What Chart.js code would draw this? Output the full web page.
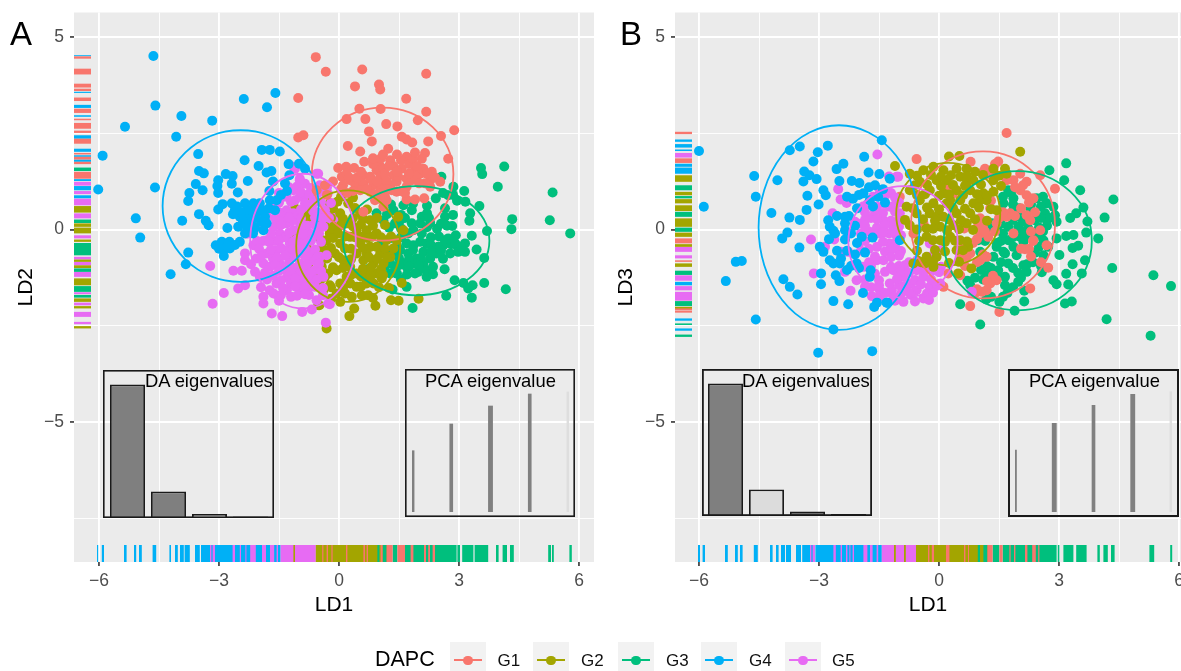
<!DOCTYPE html>
<html><head><meta charset="utf-8">
<script src="https://cdn.jsdelivr.net/npm/chart.js@4"></script>
<style>
html,body{margin:0;padding:0;background:#fff;width:1181px;height:671px;overflow:hidden;font-family:"Liberation Sans",Arial,sans-serif}
canvas{position:absolute;display:block}
.t{position:absolute;white-space:nowrap;line-height:1;color:#000}
.sw{position:absolute;top:642px;width:36px;height:29px;background:#f2f2f2}
.sw i{position:absolute;left:4px;right:4px;top:17px;height:2px}
.sw b{position:absolute;left:13px;top:13.5px;width:9.5px;height:9.5px;border-radius:50%}
</style></head><body>
<canvas id="pa" width="600" height="671" style="left:0;top:0;width:600px;height:671px"></canvas>
<canvas id="pb" width="590" height="671" style="left:600px;top:0;width:590px;height:671px"></canvas>
<canvas id="daA" width="171" height="148" style="left:103px;top:370px;width:171px;height:148px"></canvas>
<canvas id="pcaA" width="170" height="148" style="left:405px;top:369px;width:170px;height:148px"></canvas>
<canvas id="daB" width="170" height="147" style="left:702px;top:369px;width:170px;height:147px"></canvas>
<canvas id="pcaB" width="171" height="148" style="left:1008px;top:369px;width:171px;height:148px"></canvas>
<div class="t" style="left:10px;top:17px;font-size:33px">A</div>
<div class="t" style="left:620px;top:17px;font-size:33px">B</div>
<div class="t" style="left:145px;top:372px;font-size:18.4px">DA eigenvalues</div>
<div class="t" style="left:425px;top:372px;font-size:18.4px">PCA eigenvalue</div>
<div class="t" style="left:742px;top:372px;font-size:18.4px">DA eigenvalues</div>
<div class="t" style="left:1029px;top:372px;font-size:18.4px">PCA eigenvalue</div>
<div class="t" style="left:375px;top:649px;font-size:21.5px">DAPC</div>
<div id="legend"></div>
<script>
const groupNames=["G1","G2","G3","G4","G5"];
const groupColors=["#F8766D","#A3A500","#00BF7D","#00B0F6","#E76BF3"];
const xMajor=[-6,-3,0,3,6], xMinor=[-4.5,-1.5,1.5,4.5];
const yMajor=[-5,0,5], yMinor=[-7.5,-2.5,2.5];

const g1A=[[-.58,4.48],[-.33,4.1],[.58,4.16],[2.18,4.05],[.4,3.72],[1,3.77],[1.03,3.64],[1.68,3.4],[-1.02,3.42],[-1.02,2.39],[-.89,2.45],[.51,3.14],[1.04,3.13],[2.18,3.06],[1.97,2.84],[.19,2.87],[.66,2.87],[1.18,2.74],[1.46,2.68],[2.88,2.58],[2.55,2.43],[.75,2.55],[.82,2.29],[1.57,2.41],[1.69,2.34],[1.83,2.26],[2.23,2.29],[.22,2.17],[1.23,2.1],[.53,2.03],[2.15,1.99],[2.07,1.84],[1.69,1.89],[1.28,1.8],[.63,1.76],[2.73,1.84],[-.02,1.6],[.18,1.63],[.38,1.6],[1.01,1.67],[.94,1.54],[1.36,1.65],[1.57,1.58],[1.9,1.54],[2.11,1.58],[2.32,1.5],[.07,1.37],[.61,1.41],[.78,1.37],[1.03,1.37],[1.36,1.41],[1.69,1.32],[2.28,1.28],[2.53,1.24],[.4,1.19],[.61,1.19],[.86,1.15],[1.28,1.15],[1.44,1.24],[-.35,1.15],[-.56,1.02],[.53,1.02],[.78,.98],[1.03,1.02],[1.32,1.02],[1.69,1.11],[2.28,1.11],[1.03,.8],[1.19,.76],[1.69,.78],[1.9,.78],[2.13,.81],[1.11,.59],[.61,.46],[.28,1.28],[1.11,1.58],[1.48,1.37],[2.03,1.45],[.19,1.45],[1.03,1.19],[1.82,1.28],[1.94,1.37],[1.44,.98],[.9,.76],
[.1,1.15],[.25,1.35],[.45,1.35],[.55,1.5],[.85,1.7],[.8,1.3],[.95,1.25],[1.15,1.45],[1.2,1.25],[1.25,1.65],[1.45,1.5],[1.55,1.8],[1.75,1.7],[1.85,1.85],[1.95,1.65],[1.75,1.45],[2.2,1.45],[2.4,1.35],[2.15,1.2],[2,1.2],[.7,1.05],[.9,.9],[1.15,.85],[1.2,1.05],[1.55,1],[1.65,.95],[.85,1.85],[1.05,1.85],[1.1,1.95],[1.45,1.95],[1.9,2],[.35,1],[.2,.95],[-.15,1.25],[-.3,.9],[.05,1.05]];
const g2A=[[-.31,-2.57],[.26,-2.25],[.38,-2.05],[.03,-1.88],[-.49,-1.97],[.91,-1.98],[1.3,-1.84],[1.49,-1.85],[1.99,-1.8],[1.57,-1.39],[.32,-1.75],[.57,-1.71],[.73,-1.71],[.15,-1.66],[-.06,-1.66],[-.23,-1.45],[1.07,-1.27],[.86,-1.4],[.44,-1.49],[.28,-1.4],[.69,-1.4],[-.47,-1.32],[-.64,-1.1],[-.77,-.97],[-1.13,-.19],[-.77,.37],[-.04,.72],[.23,.68],[.03,.42],[.53,.42],[.78,.24],[-1.1,.5],[-.23,.68],[-.56,.16],[-.39,.33],[-.14,.07],[.19,.16],[.44,-.02],[.69,-.02],[.94,-.1],[1.19,-.28],[1.36,-.49],[-.81,-.45],[-.6,-.58],[-.31,-.28],[.03,-.36],[.28,-.19],[.53,-.36],[.78,-.45],[1.03,-.62],[1.28,-.71],[.44,-.62],[.61,-.8],[.86,-.88],[1.11,-.88],[-.64,-.8],[-.43,-.97],[-.27,-1.14],[-.06,-1.06],[.11,-.8],[.28,-.97],[.44,-1.14],[.69,-1.19],[.94,-1.14],[.03,-1.4],[.19,-1.23],[-.23,-.1],[-.02,-.1],[.15,-.49],[-.1,-.62],[.57,-.19],[.94,-.45],[.82,-.19],[.69,-.62],[1.44,-.28],[1.48,.33],[1.61,-.02],[-1.1,-.19],[-.81,-.97],[-1.1,-1.14],[-.48,-.93],[-.81,-.49],[-.48,-.54],[-.52,-1.97],[-.73,.89],[-1.1,.55],[-.77,.33],[-.43,.33],[-.35,-1.23],[-.39,-1.58],
[.05,.85],[.35,.83],[-.15,.55],[.4,.56],[.7,.52],[-.2,.3],[.1,.28],[.35,.3],[.6,.28],[.95,.3],[-.35,.1],[.05,.12],[.35,.08],[.55,.13],[.85,.1],[1.15,.12],[-.5,-.2],[-.15,-.22],[.15,-.18],[.4,-.2],[.7,-.22],[1.05,-.2],[1.3,-.18],[-.4,-.5],[-.2,-.48],[.3,-.5],[.6,-.48],[1.15,-.5],[-.3,-.75],[0,-.72],[.3,-.77],[.75,-.72],[.95,-.76],[1.2,-.73],[-.15,-.98],[.1,-1],[.6,-1.02],[.8,-.98],[1.05,-1.03],[-.6,-1.22],[.3,-1.18],[.55,-1.22],[.8,-1.2],[1.1,-1.18],[-.2,-1.5],[.1,-1.52],[.55,-1.48],[1,-1.5],[1.25,-1.52],[-.2,-1.8],[.85,-1.78]];
const g3A=[[3.55,1.6],[3.58,1.44],[4.13,1.64],[3.97,1.11],[5.34,.96],[5.27,.24],[5.78,-.1],[4.33,.27],[4.31,.01],[4.17,-1.55],[3.63,-1.39],[3.32,-1.77],[3.34,-1.45],[3.23,-1.53],[3.11,-1.39],[2.68,-1.72],[1.84,-2.04],[2.89,-1.32],[1.69,-1.49],[1.34,-1.56],[3.7,-.04],[3.63,-.74],[3.44,-.52],[3.32,-.16],[3.51,.61],[3.28,.42],[3.26,.23],[3.13,1],[3.16,.72],[2.56,1.37],[2.86,1.11],[2.73,.89],[2.42,.81],[2.65,.55],[2.65,.33],[2.83,.09],[2.92,-.15],[2.73,-.23],[2.61,-.41],[2.78,-.62],[2.98,-.58],[3.15,-.36],[3.15,-.58],[2.44,-.62],[2.28,-.75],[2.64,-1.03],[2.19,-1.23],[1.98,-1.1],[1.69,-.97],[1.4,-.97],[1.28,-1.14],[.76,-1.01],[2.28,.17],[2.07,.33],[1.82,.5],[1.61,.63],[1.36,.5],[.94,.42],[1.11,.24],[2.07,-.1],[1.86,-.02],[1.4,.16],[2.03,-.32],[1.86,-.41],[2.11,-.58],[1.94,-.75],[1.73,-.62],[1.53,-.54],[1.36,-.62],[2.11,-.88],[1.86,-.88],[1.61,-.88],[1.28,-.88],[2.19,-1.06],[1.03,-.41],[1.73,-.1],[2.19,-.36],[1.69,-.36],[1.53,.24],[1.82,.16],[2.03,.16],[2.48,-.45],[2.65,-.28],
[1.3,.65],[1.85,.67],[2.2,.62],[1.2,.4],[1.55,.38],[2.2,.42],[2.85,.38],[1.65,.3],[2.25,.3],[1.25,.05],[1.55,.03],[2.2,.06],[2.45,.02],[1.55,-.2],[1.3,-.22],[2.3,-.2],[2.5,-.18],[1.45,-.42],[2.3,-.4],[2.8,-.38],[2.95,-.42],[1.2,-.55],[1.85,-.53],[2.3,-.57],[1.5,-.75],[1.75,-.77],[2.05,-.74],[2.6,-.76],[1.15,-.95],[1.5,-.93],[1.75,-.96],[2,-.94],[2.35,-.97],[1.45,-1.15],[1.7,-1.17],[1.9,-1.14],[2.35,-1.16],[1.55,-1.3],[2.55,.15],[2.7,.1],[2.55,-.55],[2.9,-.35],[3.05,-.45],[2.95,.75],[2.85,.9],[2.6,.95]];
const g4A=[[-4.64,4.51],[-4.59,3.22],[-5.35,2.67],[-3.94,2.95],[-3.17,2.83],[-4.07,2.41],[-2.38,3.39],[-1.8,3.18],[-1.59,3.55],[-5.91,1.92],[-6.02,1.04],[-4.6,1.09],[-5.08,.29],[-4.97,-.21],[-4.21,-1.16],[-3.83,-.9],[-3.77,-.6],[-3.92,.23],[-3.52,1.96],[-1.93,2.07],[-1.73,2.07],[-1.48,2.03],[-2.36,1.8],[-2.01,1.65],[-3.5,1.52],[-3.38,1.46],[-1.81,1.48],[-1.69,1.52],[-1.26,1.7],[-1,1.71],[-.85,1.58],[-1.24,1.41],[-2.83,1.44],[-2.66,1.39],[-3.02,1.28],[-2.68,1.19],[-2.28,1.26],[-3.58,1.18],[-3.41,1.02],[-3.04,1.13],[-3.74,.95],[-3.02,.95],[-2.53,.96],[-3.77,.74],[-1.74,1],[-3.5,.4],[-3.33,.23],[-3.26,.11],[-3.02,.52],[-2.91,.66],[-2.68,.68],[-2.6,.52],[-2.35,.68],[-2.14,.68],[-1.98,.68],[-1.73,.76],[-1.56,.76],[-2.48,.33],[-2.31,.33],[-2.06,.42],[-1.85,.33],[-1.81,.16],[-2.31,.5],[-2.52,.07],[-2.79,.04],[-1.89,-.02],[-3.08,-.41],[-2.93,-.32],[-2.74,-.32],[-2.89,-.54],[-2.73,-.49],[-2.88,-.69],[-2.48,-.32],[-2.35,-.1],
[-2.55,.6],[-2.45,.45],[-2.2,.5],[-2.1,.3],[-2,.55],[-1.9,.5],[-2.65,.4],[-2.2,.15],[-2.1,.05],[-1.95,.2],[-2.4,.2],[-2.3,.05],[-2.15,-.1],[-1.75,.55],[-1.6,.5],[-1.45,.9],[-1.3,1],[-1.35,1.2],[-1.65,1.25],[-3,-.5],[-2.8,-.45],[-2.6,-.4]];
const g5A=[[-3.22,-.95],[-3.16,-1.93],[-2.88,-1.65],[-2.64,-1.07],[-2.43,-1.07],[-2.52,-1.53],[-2.35,-1.45],[-2.35,-.8],[-2.06,-.75],[-1.89,-.88],[-2.14,-.41],[-2.35,-.62],[-2.14,-.06],[-1.81,-.28],[-1.48,-.1],[-1.56,.24],[-1.31,.5],[-1.1,.76],[-1.1,1.58],[-.56,1.45],[-.98,1.32],[-.48,1.15],[-.85,1.19],[-1.39,.85],[-1.14,1.02],[-.64,.76],[-.89,.85],[-1.14,.42],[-.81,.59],[-1.81,.33],[-1.64,.07],[-1.31,.16],[-.98,.16],[-1.14,-.02],[-.73,-.1],[-1.81,-.62],[-1.56,-.54],[-1.23,-.36],[-.98,-.45],[-1.23,-.71],[-1.48,-.88],[-.98,-.88],[-.64,-.8],[-1.73,-.97],[-1.98,-1.23],[-1.56,-1.4],[-1.73,-1.58],[-1.64,-1.66],[-1.31,-1.58],[-1.89,-1.75],[-1.89,-1.92],[-.98,-1.4],[-.98,-1.66],[-.73,-1.49],[-.56,-1.84],[-1.68,-2.18],[-1.42,-2.25],[-.92,-2.14],[-.68,-2.08],[-.33,-2.42],[-.27,-1.92],[-.23,-1.94],[-.73,-.8],[-.48,-.71],[-.31,-.67],[-.98,-.97],[-.39,-1.23],[-1.14,-1.23],[-1.31,-1.58],[-.94,-1.49],[-.52,1.45],[-.39,1.11],[-.98,1.28],[-1.14,1.63],[-1.31,.85],[-.98,.85],[-.64,.68],[-1.39,.33],[-1.06,.33],[-.39,.07],[-1.7,.6],[-1.5,.45],[-1.2,.2],[-1,0],[-.8,.1],[-.55,.45],[-1.6,-.3],[-1.35,-.2],[-1.05,-.25],[-.85,-.3],[-.6,-.15],[-1.65,-.75],[-1.35,-.55],[-1.05,-.65],[-.75,-.6],[-1.9,-.3],[-1.35,-1.05],[-1.1,-1],[-.85,-1.1],[-.6,-1.05],[-1.65,-1.2],[-1.3,-1.25],[-1,-1.2],[-.75,-1.3],[-1.2,-1.4],[-.75,-1.7],[-1.2,-1.75],[-1.5,-1.85],
[-1.25,1.1],[-1.05,1.12],[-.7,1.08],[-.3,1.1],[-1.5,.95],[-.95,.97],[-.75,.93],[-.5,.96],[-.28,.94],[-1.5,.7],[-1.2,.72],[-.85,.68],[-.45,.71],[-.2,.69],[-1.75,.5],[-.95,.52],[-.65,.48],[-.35,.5],[-1.6,.3],[-1.25,.32],[-.95,.28],[-.6,.31],[-.4,.29],[-.25,.3],[-1.95,.1],[-1.45,.12],[-.95,.08],[-.6,.11],[-.45,.09],[-1.7,-.1],[-1.25,-.08],[-.9,-.12],[-.5,-.1],[-2.3,-.11],[-2.05,-.3],[-1.75,-.32],[-1.5,-.28],[-1.15,-.31],[-.7,-.29],[-.45,-.32],[-2,-.5],[-1.7,-.52],[-1.45,-.48],[-1.15,-.51],[-.85,-.49],[-.6,-.52],[-1.95,-.7],[-1.55,-.72],[-1.35,-.68],[-1.1,-.71],[-.85,-.69],[-.55,-.72],[-2.2,-.9],[-1.6,-.92],[-1.25,-.88],[-.8,-.91],[-.5,-.89],[-2.1,-1.1],[-1.85,-1.12],[-1.5,-1.08],[-1.2,-1.11],[-.95,-1.09],[-.7,-1.12],[-.45,-1.08],[-1.8,-1.3],[-1.45,-1.32],[-1.1,-1.28],[-.85,-1.31],[-.55,-1.29],[-1.95,-1.5],[-1.4,-1.52],[-1.1,-1.48],[-.85,-1.51],[-.6,-1.49],[-.4,-1.52],[-1.45,-1.7],[-1.05,-1.72],[-.85,-1.68],[-.4,-1.71]];
const g5ATop=[[-.18,.46],[-.15,.42],[.0,.2],[.03,.29],[-.06,.16],[-.81,.58],[-.48,-.74],[-.45,-.85],[-.75,-.85],[-.31,-.67],[-.9,-.15],[-.95,.25],[-.95,-.6],[-.8,-1.05],[-.55,-1.35],[-1,-1.25],[-.7,.2]];

const g1B=[[1.69,2.51],[-.56,1.83],[.79,1.76],[1.48,1.77],[1.15,1.58],[1.11,1.5],[1.15,1.41],[2.03,1.45],[1.86,1.28],[2.19,1.24],[1.69,1.28],[2.9,1.06],[2.53,1.41],[2.19,.89],[2.03,1.02],[2.36,.81],[.23,1.06],[.36,.94],[1.28,.55],[1.78,.42],[1.69,.33],[2.19,.37],[2.28,.24],[2.53,-.02],[1.03,.29],[.98,.11],[.63,.03],[1.23,-.19],[1.03,-.1],[1.44,.16],[1.86,-.1],[2.36,-.28],[-.39,.16],[-.98,.85],[2.15,-.51],[.61,-.45],[.78,-.62],[1.03,-.8],[1.19,-.71],[.53,-1.19],[2.73,-.99],[1.44,-1.32],[1.28,-1.4],[1.07,-1.62],[1.19,-1.58],[.9,-1.66],[2.28,-1.53],[.78,-1.99],[1.51,-2.14],[.23,-1.14],[.11,-1.49],[2.69,-.41],[-.64,-.1],
[1.05,.2],[1.1,.05],[1.15,-.05],[.95,-.25],[.85,-.35],[.7,-.7],[.95,-.85],[1.1,-.65],[1.4,-.05],[1.5,.3],[1.6,.45],[1.9,.35],[2.05,.55],[2.25,.7],[2.4,.45],[2.3,-.05],[2.35,-.3],[2.25,-.5],[2.05,-.5],[1.9,1.1],[2.1,1.15],[1.3,.75],[1.4,1.7],[1.3,1.5],[.95,-1.55],[1.35,-1.2],[1.2,-1.35],[2.55,-.85],[2.3,-.7],[.65,-.95],[.55,-.75]];
const g2B=[[2.03,2.02],[.25,1.9],[.51,1.91],[-1.1,1.65],[-.73,1.45],[-.39,1.54],[-.14,1.63],[.11,1.54],[.44,1.58],[.69,1.58],[.9,1.5],[1.36,1.58],[1.65,1.58],[-.48,1.24],[-.06,1.28],[.19,1.28],[.53,1.37],[.86,1.28],[1.36,1.28],[1.69,1.45],[-.73,1.02],[-.23,1.02],[.11,.94],[.44,1.02],[.78,1.02],[1.11,.94],[1.36,.98],[-.81,.59],[-.48,.76],[-.14,.68],[.19,.68],[.53,.76],[.86,.68],[1.19,.76],[-.56,.42],[-.23,.42],[.11,.33],[.44,.42],[.78,.42],[1.44,.5],[-.73,.11],[-.31,.03],[.03,.07],[.36,.11],[.69,.16],[-.31,-.19],[.03,-.28],[.28,-.19],[.53,-.28],[-.31,-.71],[-.35,-.88],[-.64,-.88],[-.06,-.71],[.44,-.54],[.73,-.45],[-.14,-.97],[.48,-1.14],[.81,-1.01],[1.03,.76],[.69,1.19],[.28,.76],[-.06,.33],
[-.55,1.4],[-.2,1.42],[.05,1.38],[.3,1.41],[.7,1.39],[1.1,1.42],[1.5,1.4],[-.6,1.15],[-.3,1.17],[.05,1.13],[.35,1.16],[.65,1.14],[1.05,1.17],[1.55,1.13],[-.55,.9],[-.35,.92],[0,.88],[.25,.91],[.6,.89],[.95,.92],[1.2,.88],[-.65,.55],[-.3,.57],[0,.53],[.35,.56],[.65,.54],[1,.57],[1.3,.53],[-.85,.25],[-.4,.27],[-.1,.23],[.25,.26],[.55,.24],[.9,.27],[1.2,.23],[-.55,0],[-.15,.02],[.2,-.02],[.5,.01],[.85,-.01],[-.5,-.3],[-.15,-.28],[.15,-.32],[.4,-.29],[.7,-.31],[-.55,-.55],[-.1,-.53],[.15,-.57],[.6,-.54],[-.45,-.85],[-.15,-.83],[.25,-.87],[.5,-.84]];
const g3B=[[3.18,1.72],[2.76,1.54],[3.13,1.28],[3.53,1.02],[4.36,.78],[3.61,.57],[3.71,.21],[3.43,.42],[3.28,.3],[4.14,.31],[3.98,-.23],[3.68,-.08],[3.36,-.14],[3.18,-.17],[3.48,-.42],[3.34,-.48],[3.01,-.66],[3.65,-.8],[3.34,-.9],[3.18,-1.15],[3.57,-1.14],[3.23,-1.43],[4.33,-1],[5.36,-1.19],[5.8,-1.47],[5.29,-2.76],[4.19,-2.33],[1.03,-2.47],[3.15,-1.92],[3.32,-1.87],[1.89,-2.11],[2.13,-1.87],[2.86,-1.32],[2.94,-1.42],[2.57,-1.11],[2.13,-1.59],[.53,-1.94],[1.18,-1.82],[1.51,-1.88],[1.71,-1.65],[.78,-1.45],[.71,-1.33],[1.19,-1.19],[1.48,-1.06],[1.65,-1.23],[1.98,-1.36],[1.98,-1.13],[2.19,-1.1],[1.73,-.88],[1.94,-.67],[1.65,-.62],[1.36,-.71],[2.11,-.93],[1.03,-.58],[2.61,-.67],[2.73,-.45],[2.94,-.23],[2.61,-.28],[2.44,-.15],[2.03,-.19],[1.73,-.28],[1.73,.07],[1.98,.07],[2.23,.03],[1.32,.16],[.98,-.28],[2.03,.33],[1.86,.5],[1.61,.68],[1.73,1.02],[2.03,1.06],[1.86,.81],[2.28,.55],[2.44,.81],[2.69,.68],[2.86,.59],[2.9,.37],[2.94,.2],[2.65,.42],[2.4,.24],[1.86,-.45],[1.44,-.45],[2.11,-.32],[1.61,-.58],
[1.6,.85],[1.8,.95],[1.85,.65],[2,.55],[2.3,.65],[2.55,.6],[2.6,.85],[2.75,.3],[2.7,.1],[2.6,-.05],[2.1,.2],[1.55,.15],[1.45,.05],[1.6,-.1],[1.55,-.3],[1.85,-.2],[2.2,-.15],[2.5,-.45],[2.4,-.6],[2.55,-.95],[2.35,-.85],[2.2,-.9],[1.85,-1],[1.55,-.85],[1.45,-1.2],[1.3,-1],[1.2,-.95],[1.05,-1.05],[.9,-1.25],[.85,-1.6],[1.1,-1.3],[1.65,-1.45],[1.85,-1.5],[2.05,-1.25],[1.6,-1.75],[1.3,-1.75],[1.45,-.35],[1.2,.05],[1.15,-.3],[1.85,.25],[2.1,-.05],[2.5,.05],[2.7,.25],[2.55,.3]];
const g4B=[[-6,2.04],[-5.88,.59],[-4.62,1.39],[-4.04,1.28],[-4.58,.85],[-4.19,.43],[-3.74,.31],[-3.48,.25],[-3.31,.51],[-3.01,.65],[-3.29,.88],[-3.79,-.08],[-3.92,-.23],[-3.49,-.47],[-5.08,-.84],[-4.93,-.82],[-5.33,-1.34],[-4.58,-2.34],[-3.89,-1.29],[-3.73,-1.49],[-3.54,-1.69],[-2.64,-1.86],[-2.27,-1.94],[-2.64,-2.6],[-1.62,-2.01],[-1.29,-1.9],[-3.02,-3.2],[-1.67,-3.16],[-3.73,2.06],[-3.48,2.16],[-3.03,2.01],[-2.78,2.18],[-3.14,1.77],[-2.39,1.71],[-2.56,1.57],[-1.87,1.89],[-1.43,2.32],[-1.76,1.48],[-1.49,1.44],[-3.37,1.51],[-3.24,1.41],[-3.06,1.31],[-3.39,1.25],[-2.49,1.26],[-2.18,1.26],[-1.99,1.21],[-2.89,1.02],[-2.83,.89],[-1.89,.94],[-1.73,.76],[-1.52,.85],[-2.35,.33],[-2.35,.16],[-2.35,-.02],[-2.77,.24],[-2.73,.07],[-2.64,-.03],[-2.35,-.26],[-2.98,-.45],[-2.89,-.58],[-2.73,-.8],[-2.64,-.88],[-2.48,-.88],[-1.93,-.19],[-1.66,-.21],[-1.85,-.6],[-2.06,-.88],[-2.95,-1.14],[-2.95,-1.42],[-2.58,-1.19],[-2.49,-1.34],[-1.71,-1.06],[-1.73,-1.23],[-1.23,1.32],[-.98,-.28],[-1.31,-1.9],
[-2.3,.85],[-2.15,.8],[-2,.9],[-1.75,1.1],[-1.6,1.15],[-1.4,1.05],[-1.35,.7],[-1.65,.6],[-2.05,.55],[-2.25,.35],[-2.1,.1],[-2.2,-.1],[-2.05,-.35],[-2.3,-.55],[-2.1,-.65],[-2,-1],[-2.3,-1.05],[-2.45,-.75],[-2.55,-.55],[-1.9,-1.65],[-2.2,-.95],[-2.6,-.1],[-2.75,-.25],[-2.55,.35],[-1.55,-1.9]];
const g5B=[[-1.54,1.95],[-1.25,1.38],[-1.02,1.37],[-2.52,1.05],[-2.46,.78],[-2.31,.69],[-2.66,.42],[-3.2,-.26],[-2.62,-.26],[-2.85,-.45],[-3.13,-1.14],[-2.35,-1.1],[-2.46,-.58],[-2.27,-.58],[-2.06,-1.32],[-1.89,-.97],[-1.85,-1.49],[-2.21,-1.59],[-1.68,-1.73],[-1.48,-1.75],[-1.18,-1.58],[-1.06,1.37],[-1.48,1.02],[-1.23,.59],[-.98,.42],[-1.39,.24],[-1.14,.07],[-1.48,-.1],[-1.23,-.36],[-.98,-.62],[-1.39,-.8],[-1.14,-1.06],[-.89,-1.23],[-.56,-1.06],[-.23,-.36],[.03,-.54],[-.23,-.71],[-.39,-1.23],[-.14,-1.06],[-.56,-1.58],[-.39,-1.79],[-.89,-1.88],[-1.14,-1.75],[.03,-1.4],[-1.48,-1.58],[-1.23,-1.4],[-.23,-1.49],[.82,-1.62],[-1.9,.6],[-1.7,.3],[-1.55,.6],[-1.2,.95],[-1,.7],[-1.75,-.05],[-1.55,.05],[-1.25,-.1],[-.95,-.15],[-1.1,-.45],[-1.55,-.45],[-1.75,-.5],[-2,-.35],[-2.1,.2],[-1.95,.15],[-.75,-.85],[-.55,-.8],[-1.55,-.8],[-1.75,-.85],[-1,-.95],[-1.35,-1.1],[-1.6,-1.15],[-.7,-1.4],[-1,-1.45],[-1.7,-1.5],[-.3,-.95],[-.7,-1.7],
[-1.65,.85],[-1.35,.87],[-1.1,.83],[-1.8,.65],[-1.35,.67],[-1.1,.63],[-1.85,.45],[-1.6,.47],[-1.4,.43],[-1.1,.46],[-1.85,.25],[-1.55,.27],[-1.2,.23],[-1,.26],[-1.85,.1],[-1.35,.12],[-1,.08],[-1.95,-.1],[-1.6,-.12],[-1.4,-.08],[-1.1,-.11],[-1.85,-.3],[-1.4,-.32],[-1.05,-.28],[-1.95,-.55],[-1.35,-.57],[-1.2,-.53],[-.95,-.56],[-1.6,-.7],[-1.2,-.72],[-1,-.68],[-1.7,-.95],[-1.2,-.97],[-.85,-.93],[-.5,-.96],[-.15,-.94],[.05,-.97],[-.95,-1.1],[-.75,-1.12],[-.35,-1.08],[0,-1.11],[-1.85,-1.3],[-1.5,-1.32],[-1.05,-1.28],[-.6,-1.31],[-.2,-1.29],[-1.5,-1.45],[-.85,-1.47],[-.45,-1.43],[-.05,-1.46],[-1.35,-1.65],[-.95,-1.67],[-.75,-1.63],[-.3,-1.66],[-.15,-1.64],[-1.1,-1.85],[-.6,-1.87],[-.25,-1.83]];

// rug bands: [from, to] in data units
const rugXA_G4=[[-6.05,-6.02],[-5.93,-5.875],[-5.375,-5.31],[-5.125,-5.07],[-5,-4.93],[-4.66,-4.57],[-4.24,-4.2],[-4.1,-4.03],[-3.975,-3.88],[-3.86,-3.73],[-3.6,-3.48],[-3.45,-1.46]];
const rugXA_G5=[[-3.225,-3.19],[-3.16,-3.1],[-2.66,-2.6],[-2.48,-2.45],[-2.34,-2.32],[-2.22,-2.08],[-1.925,-1.825],[-1.725,-1.62],[-1.56,-1.525],[-1.46,-.58]];
const rugXA_G2=[[-1.14,-1.1],[-.58,1.3]];
const rugXA_G3=[[.96,1.01],[1.09,1.19],[1.34,1.46],[1.65,2.94],[2.96,3.025],[3.08,3.36],[3.39,3.73],[3.925,3.99],[4.09,4.2],[4.275,4.37],[5.23,5.3],[5.325,5.37],[5.76,5.82]];
const rugXA_G1=[[-.42,-.39],[-.31,-.275],[-.19,-.16],[.175,.21],[.61,.65],[.69,.725],[1.04,1.09],[1.19,1.34],[1.46,1.65],[1.79,1.86],[2.125,2.175],[2.23,2.275],[2.34,2.4]];
const rugXB_G4=[[-6.025,-5.975],[-5.91,-5.85],[-5.35,-5.28],[-5.1,-5.03],[-4.975,-4.91],[-4.63,-4.53],[-4.225,-4.16],[-4.075,-4.01],[-3.95,-3.85],[-3.825,-3.7],[-3.575,-3.45],[-3.42,-3.11],[-3.09,-1.43]];
const rugXB_G5=[[-3.225,-3.19],[-3.16,-3.1],[-2.64,-2.58],[-2.46,-2.425],[-2.325,-2.29],[-2.24,-2.22],[-2.16,-2.125],[-1.89,-1.79],[-1.725,-1.66],[-1.56,-1.52],[-1.43,-.575]];
const rugXB_G2=[[-1.125,-1.08],[-.875,-.83],[-.575,1.3]];
const rugXB_G3=[[.97,1.025],[1.11,1.21],[1.34,1.51],[1.59,2.94],[2.97,3.01],[3.11,3.36],[3.43,3.69],[3.96,4.02],[4.11,4.22],[4.3,4.39],[5.26,5.38],[5.78,5.83]];
const rugXB_G1=[[-.275,-.24],[-.18,-.125],[.175,.26],[.625,.66],[.725,.74],[1.21,1.34],[1.51,1.59],[1.76,1.79],[1.875,1.91],[2.15,2.21],[2.33,2.42],[2.48,2.51]];
const rugYA_G1=[[4.44,4.5],[4.03,4.18],[3.69,3.79],[3.6,3.66],[3.34,3.43],[3.03,3.14],[2.84,2.88],[2.62,2.77],[2.51,2.57],[2.23,2.36],[1.95,1.99],[1.82,1.89],[1.7,1.76],[1.32,1.5]];
const rugYA_G4=[[4.51,4.53],[3.55,3.58],[3.16,3.24],[2.93,2.97],[2.67,2.71],[2.36,2.45],[2.02,2.1],[1.89,1.93],[1.76,1.82],[1.26,1.31],[1.02,1.13],[.81,.89]];
const rugYA_G5=[[1.14,1.24],[.92,1],[.63,.8],[.29,.42],[-.23,-.15],[-.78,-.71],[-.93,-.84],[-1.23,-1.1],[-1.68,-1.63],[-1.97,-1.9],[-2.27,-2.14],[-2.46,-2.4]];
const rugYA_G2=[[.44,.61],[.07,.16],[-.1,.05],[-.32,-.26],[-.84,-.78],[-1,-.93],[-1.45,-1.27],[-1.88,-1.79],[-2.05,-1.99],[-2.57,-2.51]];
const rugYA_G3=[[1.52,1.61],[.17,.26],[-.67,-.35],[-1.1,-1.01],[-1.62,-1.47],[-1.77,-1.7]];
const rugYB_G1=[[2.48,2.54],[1.73,1.85],[-.36,-.23],[-.84,-.8],[-2.1,-2.01],[-2.16,-2.11]];
const rugYB_G4=[[2.28,2.34],[2.13,2.22],[2.04,2.08],[1.63,1.71],[1.45,1.61],[-1.45,-1.36],[-2.37,-2.31],[-2.63,-2.57]];
const rugYB_G5=[[1.87,1.99],[-.58,-.45],[-.75,-.67],[-1.33,-1.19],[-1.58,-1.47],[-1.85,-1.62]];
const rugYB_G2=[[1.24,1.41],[.89,.98],[.68,.79],[.48,.63],[.07,.29],[-.19,-.08],[-.45,-.38],[-.97,-.88],[-2.05,-2.01]];
const rugYB_G3=[[1.02,1.15],[.81,.87],[.33,.46],[-.06,.05],[-1.18,-1.07],[-1.99,-1.86],[-2.48,-2.44],[-2.79,-2.73]];

// ellipses: group index, centre x, centre y, radius x, radius y
const ellipsesA=[[0,1.09,1.44,1.77,1.73],[1,.23,-.43,1.3,1.45],[2,1.93,-.29,1.83,1.42],[3,-2.46,.61,1.95,1.97],[4,-.9,-.3,1.32,1.75]];
const ellipsesB=[[0,1.1,.12,1.8,1.91],[1,.23,.4,1.3,1.33],[2,1.97,-.29,1.85,1.81],[3,-2.5,.05,2.01,2.66],[4,-.9,-.32,1.365,1.45]];

const daLabels=["1","2","3","4"], pcaLabels=["1","2","3","4","5"];
const daValuesA=[133.5,26.5,4,1.5], daValuesB=[132.5,26.5,4.5,2];
const daFillA=["#7f7f7f","#7f7f7f","#e6e6e6","#111111"], daFillB=["#7f7f7f","#dcdcdc","#555555","#111111"];
const pcaValuesA=[61.3,88,106,118,120], pcaValuesB=[62,88.7,106.7,117.7,120.3];
const pcaThickA=[1,0,1,0,1], pcaThickB=[0,1,0,1,1];
const pcaFill=["#808080","#808080","#808080","#808080","#dedede"];

const FONT='"Liberation Sans",Arial,sans-serif';
function isMajor(v,maj){return maj.includes(v)}
function lbl(v){return v<0?"\u2212"+Math.abs(v):String(v)}
function axis(maj,min,lo,hi,pad,extra){
  const all=maj.concat(min).sort((a,b)=>a-b);
  return Object.assign({type:'linear',min:lo,max:hi,
    afterBuildTicks(s){s.ticks=all.map(v=>({value:v}))},
    border:{display:false},
    grid:{color:'#ffffff',lineWidth:c=>c.tick&&isMajor(c.tick.value,maj)?1.9:.9,
      tickColor:c=>c.tick&&isMajor(c.tick.value,maj)?'#333333':'rgba(0,0,0,0)',tickWidth:1.6,tickLength:4},
    ticks:{autoSkip:false,maxRotation:0,minRotation:0,padding:pad,color:'#4d4d4d',font:{family:FONT,size:17.5},
      callback:v=>isMajor(v,maj)?lbl(v):''}
  },extra);
}
function decoPlugin(rugX,rugY,ells){return {id:'deco',
  beforeDraw(ch){const a=ch.chartArea,c=ch.ctx;c.save();c.fillStyle='#ebebeb';c.fillRect(a.left,a.top,a.width,a.height);c.restore()},
  beforeDatasetsDraw(ch){const a=ch.chartArea,c=ch.ctx,X=ch.scales.x,Y=ch.scales.y;c.save();
    rugX.forEach(([g,b])=>{c.fillStyle=groupColors[g];b.forEach(([p,q])=>{const l=X.getPixelForValue(p),r=X.getPixelForValue(q);c.fillRect(l,a.bottom-17,Math.max(r-l,1),17)})});
    rugY.forEach(([g,b])=>{c.fillStyle=groupColors[g];b.forEach(([p,q])=>{const t=Y.getPixelForValue(q),u=Y.getPixelForValue(p);c.fillRect(a.left,t,17,Math.max(u-t,1))})});
    c.restore()},
  afterDatasetsDraw(ch){const a=ch.chartArea,c=ch.ctx,X=ch.scales.x,Y=ch.scales.y;c.save();c.beginPath();c.rect(a.left,a.top,a.width,a.height);c.clip();c.lineWidth=1.8;
    ells.forEach(([g,cx,cy,rx,ry])=>{c.strokeStyle=groupColors[g];c.beginPath();
      c.ellipse(X.getPixelForValue(cx),Y.getPixelForValue(cy),Math.abs(X.getPixelForValue(cx+rx)-X.getPixelForValue(cx)),Math.abs(Y.getPixelForValue(cy+ry)-Y.getPixelForValue(cy)),0,0,Math.PI*2);c.stroke()});
    c.restore()}
}}
function pts(a){return a.map(([x,y])=>({x,y}))}
function panel(id,layers,rugX,rugY,ells,xMin,xMax,leftW,rightPad,ylab){
  new Chart(document.getElementById(id),{type:'scatter',
    data:{datasets:layers.map(([g,arr])=>({label:groupNames[g],data:pts(arr),backgroundColor:groupColors[g],borderWidth:0,pointRadius:5,pointHoverRadius:5}))},
    plugins:[decoPlugin(rugX,rugY,ells)],
    options:{responsive:false,animation:false,events:[],layout:{padding:{top:12.5,right:rightPad,left:0,bottom:0}},
      plugins:{legend:{display:false},tooltip:{enabled:false},title:{display:false}},
      scales:{
        x:axis(xMajor,xMinor,xMin,xMax,5,{title:{display:true,text:'LD1',color:'#000',font:{family:FONT,size:21},padding:{top:0,bottom:53}},
          afterFit(s){s.height=109;s.paddingLeft=0;s.paddingRight=0}}),
        y:axis(yMajor,yMinor,-8.64,5.64,6,{title:{display:true,text:ylab,color:'#000',font:{family:FONT,size:21},padding:{top:14,bottom:14}},
          afterFit(s){s.width=leftW;s.paddingTop=0;s.paddingBottom=0}})
      }}});
}
panel('pa',[[3,g4A],[0,g1A],[4,g5A],[1,g2A],[4,g5ATop],[2,g3A]],
  [[3,rugXA_G4],[4,rugXA_G5],[1,rugXA_G2],[2,rugXA_G3],[0,rugXA_G1]],
  [[3,rugYA_G4],[0,rugYA_G1],[4,rugYA_G5],[1,rugYA_G2],[2,rugYA_G3]],ellipsesA,-6.625,6.375,74,6,'LD2');
panel('pb',[[3,g4B],[1,g2B],[4,g5B],[0,g1B],[2,g3B]],
  [[3,rugXB_G4],[4,rugXB_G5],[1,rugXB_G2],[2,rugXB_G3],[0,rugXB_G1]],
  [[3,rugYB_G4],[0,rugYB_G1],[4,rugYB_G5],[1,rugYB_G2],[2,rugYB_G3]],ellipsesB,-6.6,6.05,75,9,'LD3');

function boxPlugin(w){return {id:'box',afterDraw(ch){const c=ch.ctx;c.save();c.strokeStyle='#1a1a1a';c.lineWidth=w;c.strokeRect(w/2,w/2,ch.width-w,ch.height-w);c.restore()}}}
function hiddenAxes(maxV,extra){return {x:Object.assign({type:'category',display:false},extra||{}),y:{type:'linear',display:false,min:0,max:maxV}}}
function daChart(id,vals,fills,pad,maxV,w){
  new Chart(document.getElementById(id),{type:'bar',plugins:[boxPlugin(w)],
    data:{labels:daLabels,datasets:[{data:vals,backgroundColor:fills,borderColor:'#1a1a1a',borderWidth:1.8,barPercentage:1,categoryPercentage:.854}]},
    options:{responsive:false,animation:false,events:[],layout:{padding:pad},plugins:{legend:{display:false},tooltip:{enabled:false}},scales:hiddenAxes(maxV)}});
}
function pcaChart(id,vals,thick,pad,maxV,w){
  const ds=[1,0].map(t=>({data:vals.map((v,i)=>thick[i]===t?v:null),backgroundColor:pcaFill,barThickness:t?4.2:3,grouped:false}));
  new Chart(document.getElementById(id),{type:'bar',plugins:[boxPlugin(w)],
    data:{labels:pcaLabels,datasets:ds},
    options:{responsive:false,animation:false,events:[],layout:{padding:pad},plugins:{legend:{display:false},tooltip:{enabled:false}},scales:hiddenAxes(maxV,{offset:false})}});
}
daChart('daA',daValuesA,daFillA,{left:4,right:3,top:0,bottom:0},148,1.6);
daChart('daB',daValuesB,daFillB,{left:3,right:3,top:0,bottom:0},147,1.8);
pcaChart('pcaA',pcaValuesA,pcaThickA,{left:7,right:6,top:5,bottom:5},138,1.6);
pcaChart('pcaB',pcaValuesB,pcaThickB,{left:7,right:7,top:5,bottom:5},138,2);

const legendX=[450,533,618,701,785], labelX=[497.5,581,666,749,832];
const leg=document.getElementById('legend');
groupNames.forEach((n,i)=>{
  const s=document.createElement('div');s.className='sw';s.style.left=legendX[i]+'px';
  s.innerHTML='<i style="background:'+groupColors[i]+'"></i><b style="background:'+groupColors[i]+'"></b>';leg.appendChild(s);
  const t=document.createElement('div');t.className='t';t.style.cssText='left:'+labelX[i]+'px;top:652px;font-size:17px;color:#111';t.textContent=n;leg.appendChild(t);
});
</script></body></html>
